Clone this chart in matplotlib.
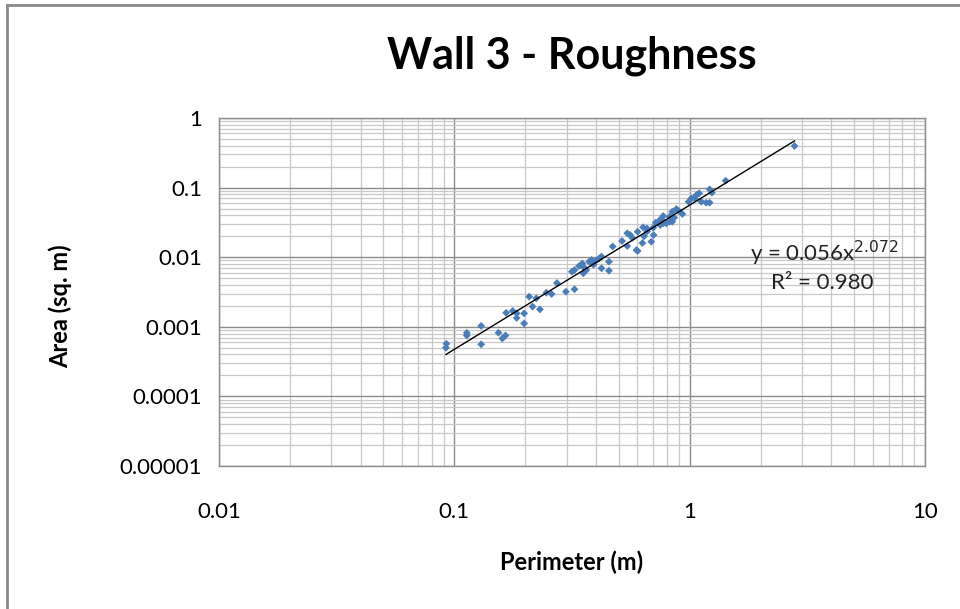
import matplotlib
matplotlib.use("Agg")

import matplotlib.pyplot as plt
from matplotlib.ticker import LogLocator, FixedLocator, FixedFormatter, NullFormatter
from matplotlib.lines import Line2D
import numpy as np

# ---------------------------------------------------------------- data --
perimeter = [
    0.0925, 0.0921, 0.113, 0.113, 0.130, 0.130, 0.154, 0.165, 0.160, 0.166,
    0.177, 0.184, 0.184, 0.198, 0.198, 0.215, 0.231, 0.208, 0.223, 0.246,
    0.259, 0.273, 0.298, 0.324, 0.316, 0.324, 0.339, 0.353, 0.353, 0.364,
    0.374, 0.383, 0.413, 0.422, 0.422, 0.454, 0.454, 0.471, 0.516, 0.543,
    0.594, 0.543, 0.559, 0.601, 0.601, 0.630, 0.634, 0.659, 0.687, 0.703,
    0.717, 0.746, 0.772, 0.796, 0.822, 0.843, 0.843, 0.878, 0.931, 0.990,
    1.016, 1.068, 1.097, 1.121, 1.175, 1.216, 1.216, 1.243, 1.422, 2.79,
    0.350, 0.400, 0.390, 0.660, 0.700, 0.750, 0.770, 0.860, 0.900, 0.640,
    0.570, 1.050, 0.772, 0.822, 0.733,
]
area = [
    0.00057, 0.00050, 0.00082, 0.00075, 0.00103, 0.00056, 0.00082, 0.00075, 0.00068, 0.00159,
    0.00169, 0.00156, 0.00134, 0.00156, 0.00112, 0.00195, 0.00178, 0.00271, 0.00257, 0.00309,
    0.00296, 0.00426, 0.00319, 0.00346, 0.00619, 0.00655, 0.00747, 0.00730, 0.00587, 0.00655,
    0.00862, 0.00912, 0.00964, 0.0102, 0.00693, 0.00862, 0.00640, 0.01425, 0.0171, 0.01449,
    0.01269, 0.02205, 0.02084, 0.02324, 0.01228, 0.0160, 0.0269, 0.0259, 0.0167, 0.02084,
    0.0313, 0.0342, 0.0391, 0.0307, 0.0382, 0.0450, 0.0324, 0.0493, 0.0418, 0.0627,
    0.0702, 0.0783, 0.0828, 0.0627, 0.0607, 0.0607, 0.0945, 0.0845, 0.1256, 0.396,
    0.0081, 0.0089, 0.0078, 0.0235, 0.0265, 0.0290, 0.0330, 0.0370, 0.0460, 0.0200,
    0.0190, 0.0700, 0.0307, 0.0324, 0.0313,
]

# power trendline as printed on the chart
fit_a = 0.056
fit_b = 2.072

x_ticks = [0.01, 0.1, 1, 10]
x_labels = ["0.01", "0.1", "1", "10"]
y_ticks = [0.00001, 0.0001, 0.001, 0.01, 0.1, 1]
y_labels = ["0.00001", "0.0001", "0.001", "0.01", "0.1", "1"]

FONT = ["Lato", "DejaVu Sans"]
POINT_BLUE = "#4a7ebb"
MAJOR_GRID = "#8c8c8c"
MINOR_GRID = "#c8c8c8"
FS = 16

# ---------------------------------------------------------------- figure --
fig = plt.figure(figsize=(9.6, 6.09), dpi=100)
fig.patch.set_facecolor("white")

# chart frame (only top and left edges are visible in the screenshot)
fig.add_artist(Line2D([7 / 960, 7 / 960], [0, 1 - 5 / 609], color="#8a8a8a",
                      lw=2.0, transform=fig.transFigure))
fig.add_artist(Line2D([7 / 960, 1], [1 - 5 / 609, 1 - 5 / 609], color="#8a8a8a",
                      lw=2.0, transform=fig.transFigure))

ax = fig.add_axes([219 / 960, 143 / 609, 706 / 960, 348 / 609])
ax.set_xscale("log")
ax.set_yscale("log")
ax.set_xlim(0.01, 10)
ax.set_ylim(0.00001, 1)

ax.xaxis.set_major_locator(FixedLocator(x_ticks))
ax.xaxis.set_major_formatter(FixedFormatter(x_labels))
ax.yaxis.set_major_locator(FixedLocator(y_ticks))
ax.yaxis.set_major_formatter(FixedFormatter(y_labels))
ax.xaxis.set_minor_locator(LogLocator(base=10, subs=np.arange(2, 10)))
ax.yaxis.set_minor_locator(LogLocator(base=10, subs=np.arange(2, 10)))
ax.xaxis.set_minor_formatter(NullFormatter())
ax.yaxis.set_minor_formatter(NullFormatter())

ax.grid(which="major", color=MAJOR_GRID, lw=1.0, zorder=0)
ax.grid(which="minor", color=MINOR_GRID, lw=0.9, zorder=0)
ax.set_axisbelow(True)
ax.tick_params(which="both", length=0)
ax.tick_params(axis="x", pad=26, labelsize=FS)
ax.tick_params(axis="y", pad=12, labelsize=FS)
for lab in ax.get_xticklabels() + ax.get_yticklabels():
    lab.set_family(FONT)
for sp in ax.spines.values():
    sp.set_color("#8c8c8c")
    sp.set_linewidth(1.0)

ax.scatter(perimeter, area, marker="D", s=16, color=POINT_BLUE,
           edgecolor="none", zorder=3)

xs = np.logspace(np.log10(min(perimeter)), np.log10(max(perimeter)), 50)
ax.plot(xs, fit_a * xs ** fit_b, color="black", lw=1.0, zorder=4)

ax.text(0.857, 0.612, r"y = 0.056x$^{2.072}$", transform=ax.transAxes,
        fontsize=FS, family=FONT, color="#222222", ha="center", va="center",
        zorder=5)
ax.text(0.854, 0.526, "R² = 0.980", transform=ax.transAxes,
        fontsize=FS, family=FONT, color="#222222", ha="center", va="center",
        zorder=5)

fig.text(572 / 960, 1 - 56 / 609, "Wall 3 - Roughness", fontsize=31,
         weight="bold", family=FONT, ha="center", va="center")
ax.set_xlabel("Perimeter (m)", fontsize=FS + 1, weight="bold", family=FONT)
ax.set_ylabel("Area (sq. m)", fontsize=FS + 1, weight="bold", family=FONT)
ax.xaxis.set_label_coords(0.5, -0.276)
ax.yaxis.set_label_coords(-0.225, 0.46)
ax.xaxis.label.set_va("center")
ax.yaxis.label.set_va("center")

fig.savefig("out.png", dpi=100, facecolor="white")
